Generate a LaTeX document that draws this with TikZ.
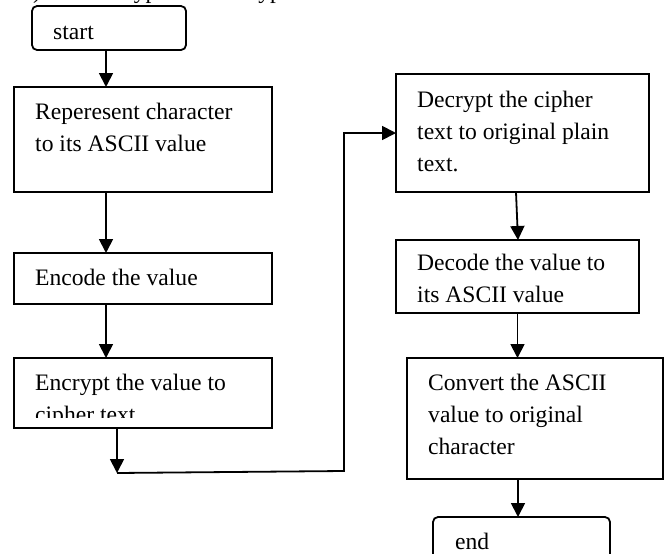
\documentclass[tikz,border=0pt]{standalone}
\usepackage{fontspec}
\setmainfont{Liberation Serif}
\usetikzlibrary{arrows.meta}
\begin{document}
\begin{tikzpicture}[x=1pt,y=-1pt,
  box/.style={draw,line width=1.8pt,inner sep=0pt,outer sep=0pt},
  rbox/.style={box,rounded corners=5pt},
  txt/.style={anchor=north west,inner sep=0pt,align=left,
              font=\fontsize{23.6}{32}\selectfont},
  arr/.style={line width=1.8pt,line join=miter,
              -{Triangle[length=14pt,width=14pt]}}]

% page frame
\fill[white] (0,0) rectangle (670,554);
\useasboundingbox (0,0) rectangle (670,554);

% caption line above the chart (only its lowest part lies on the page)
\node[anchor=base west,inner sep=0pt,font=\fontsize{23.6}{32}\selectfont]
  (cap) at (21,-1.5) {b) The Encryption / Decryption};

% left column: encoding and encryption
\node[rbox,minimum width=154pt,minimum height=44pt] (start) at (109,28) {};
\node[txt] (tstart) at (53,16.6) {\strut start};

\node[box,minimum width=258pt,minimum height=105pt] (b1) at (143,139.5) {};
\node[txt] (t1) at (35,96.6) {\strut Reperesent character\\to its ASCII value};

\node[box,minimum width=258pt,minimum height=51pt] (b2) at (143,278.5) {};
\node[txt] (t2) at (35,262.6) {\strut Encode the value};

\node[box,minimum width=258pt,minimum height=70pt] (b3) at (143,393) {};
\begin{scope}
  \clip (14,358) rectangle (272,417);
  \node[txt] (t3) at (35,367.6) {\strut Encrypt the value to\\cipher text};
\end{scope}

% right column: decryption and decoding
\node[box,minimum width=253pt,minimum height=118pt] (b4) at (522.5,133) {};
\node[txt] (t4) at (417,84.6) {\strut Decrypt the cipher\\text to original plain\\text.};

\node[box,minimum width=243pt,minimum height=73pt] (b5) at (517.5,276.5) {};
\node[txt] (t5) at (417,247.6) {\strut Decode the value to\\its ASCII value};

\node[box,minimum width=256pt,minimum height=121pt] (b6) at (535,418.5) {};
\node[txt] (t6) at (428,367.6) {\strut Convert the ASCII\\value to original\\character};

\node[rbox,minimum width=177pt,minimum height=53pt] (end) at (521.5,543.5) {};
\node[txt] (tend) at (455,526.6) {\strut end};

% connectors
\draw[arr] ([xshift=-3pt]start.south) -- ([xshift=-37pt]b1.north);
\draw[arr] ([xshift=-37pt]b1.south) -- ([xshift=-37pt]b2.north);
\draw[arr] ([xshift=-37pt]b2.south) -- ([xshift=-37pt]b3.north);

\coordinate (c1) at (117,473);
\coordinate (c2) at (344,471);
\draw[arr] ([xshift=-26pt]b3.south) -- (c1);
\draw[arr] (c1) -- (c2) |- (b4.west);

\draw[arr] ([xshift=-6.5pt]b4.south) -- ([xshift=0.5pt]b5.north);
\draw[arr] (b5.south) -- (b5.south |- b6.north);
\draw[arr] ([xshift=-17pt]b6.south) -- ([xshift=-3.5pt]end.north);
\end{tikzpicture}
\end{document}
